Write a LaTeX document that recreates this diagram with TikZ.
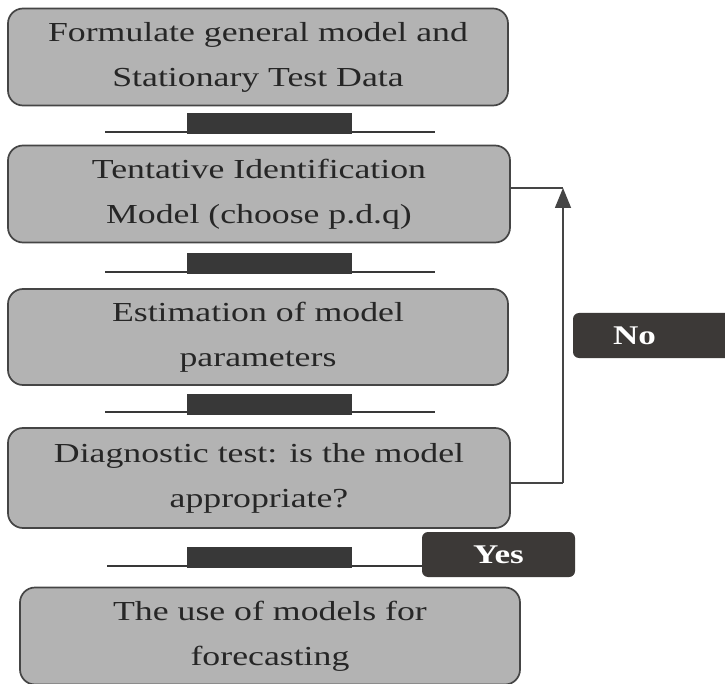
\documentclass[tikz,border=0pt]{standalone}
\usepackage{fontspec}
\setmainfont{Liberation Serif}[FakeStretch=1.3]
\usetikzlibrary{arrows.meta}
\definecolor{boxfill}{HTML}{B3B3B3}
\definecolor{boxline}{HTML}{454545}
\definecolor{barfill}{HTML}{383838}
\definecolor{tagfill}{HTML}{3C3937}
\definecolor{txt}{HTML}{262626}
\tikzset{
  stepbox/.style={draw=boxline, fill=boxfill, line width=1.7pt, rounded corners=15pt,
    minimum width=500pt, minimum height=97pt, align=center, text=txt,
    font=\fontsize{27.5}{45}\selectfont, inner sep=0pt},
  barblock/.style={fill=barfill, draw=none, minimum width=165pt, minimum height=21pt, inner sep=0pt},
  barline/.style={draw=barfill, line width=2.2pt},
  tagbox/.style={fill=tagfill, draw=none, rounded corners=6pt, text=white,
    font=\fontsize{27}{30}\selectfont\bfseries, inner sep=0pt},
  link/.style={draw=boxline, line width=1.5pt},
}
\begin{document}
\begin{tikzpicture}[x=1pt,y=-1pt]
\useasboundingbox (0,0) rectangle (725,684);
\fill[white] (0,0) rectangle (725,684);

\node[stepbox] (b1) at (258,57) {Formulate general model and\\Stationary Test Data};
\node[stepbox, minimum width=502pt] (b2) at (259,194) {Tentative Identification\\Model (choose p.d.q)};
\node[stepbox, minimum height=96pt] (b3) at (258,337) {Estimation of model\\parameters};
\node[stepbox, minimum width=502pt, minimum height=100pt] (b4) at (259,478) {Diagnostic test: is the model\\appropriate?};
\node[stepbox] (b5) at (270,636) {The use of models for\\forecasting};

% bars between boxes
\coordinate (l1a) at (105,132); \coordinate (l1b) at (435,132);
\draw[barline] (l1a) -- (l1b);
\node[barblock] (k1) at (269,124) {};
\coordinate (l2a) at (105,272); \coordinate (l2b) at (435,272);
\draw[barline] (l2a) -- (l2b);
\node[barblock] (k2) at (269,264) {};
\coordinate (l3a) at (105,412); \coordinate (l3b) at (435,412);
\draw[barline] (l3a) -- (l3b);
\node[barblock] (k3) at (269,404) {};

% Yes tag and its bar
\node[tagbox, minimum width=153pt, minimum height=45pt] (yes) at (498.5,554.5) {Yes};
\coordinate (l4a) at (107,566);
\draw[barline] (l4a) -- (l4a -| yes.west);
\node[barblock] (k4) at (269,557) {};

% No tag
\node[tagbox, minimum width=180pt, minimum height=45pt, text width=160pt, align=left] (no) at (663,335.5) {\hspace*{30pt}No};

% feedback arrow
\coordinate (fb) at (563,188);
\coordinate (fa) at (563,483);
\draw[link] (b4.east |- fa) -- (fa);
\draw[link, -{Triangle[length=20pt,width=16pt]}] (fa) -- (fb);
\draw[link] (fb) -- (b2.east |- fb);
\end{tikzpicture}
\end{document}
